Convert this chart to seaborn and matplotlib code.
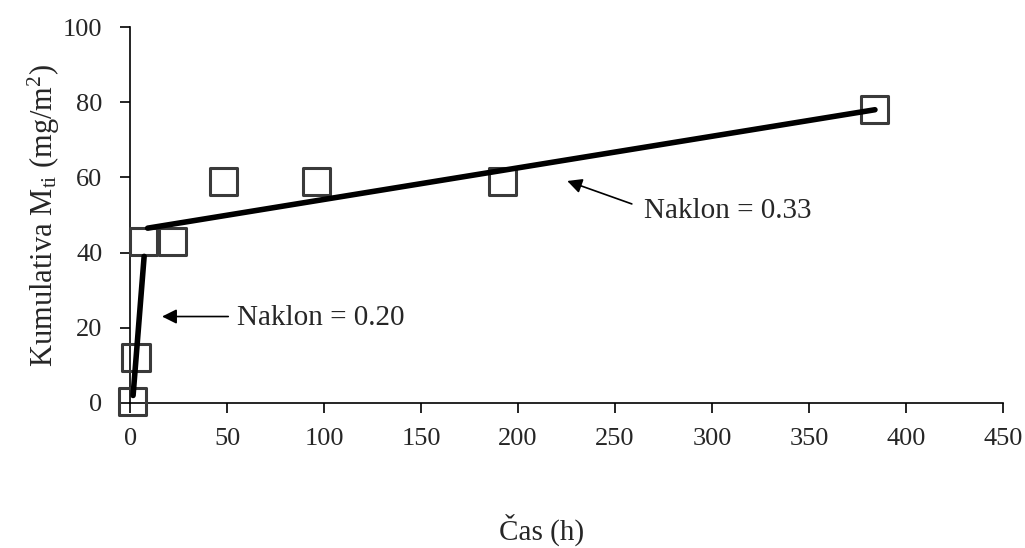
import matplotlib
matplotlib.use("Agg")
import matplotlib.pyplot as plt
import seaborn as sns
import pandas as pd

# Data
time_h = [1, 3, 7, 22, 48, 96, 192, 384]
cum_mti = [0.5, 12, 43, 43, 59, 59, 59, 78]

fit1_x = [1.5, 7.2]
fit1_y = [2, 39]
fit2_x = [9, 384]
fit2_y = [46.5, 78]

x_ticks = [0, 50, 100, 150, 200, 250, 300, 350, 400, 450]
y_ticks = [0, 20, 40, 60, 80, 100]

sns.set_theme(style="ticks")
plt.rcParams['font.family'] = ['Liberation Serif', 'DejaVu Serif']
plt.rcParams['mathtext.fontset'] = 'custom'
plt.rcParams['mathtext.rm'] = 'Liberation Serif'
plt.rcParams['mathtext.it'] = 'Liberation Serif:italic'

fig = plt.figure(figsize=(10.25, 5.48), dpi=100)
ax = fig.add_axes([0.127, 0.2646, 0.8515, 0.6861])

df = pd.DataFrame({"t": time_h, "m": cum_mti})
sns.scatterplot(data=df, x="t", y="m", ax=ax, marker="s", s=380,
                facecolor="none", edgecolor="#3a3a3a", linewidth=2.2, zorder=3)

sns.lineplot(x=fit1_x, y=fit1_y, ax=ax, color="black", linewidth=4, zorder=4)
sns.lineplot(x=fit2_x, y=fit2_y, ax=ax, color="black", linewidth=4, zorder=4)

ax.annotate("", xy=(15, 23), xytext=(52, 23),
            arrowprops=dict(arrowstyle="-|>", color="black", lw=1.2, mutation_scale=22))
ax.text(55, 22.5, "Naklon = 0.20", fontsize=21, va="center", ha="left")

ax.annotate("", xy=(224, 59.3), xytext=(260, 52.7),
            arrowprops=dict(arrowstyle="-|>", color="black", lw=1.2, mutation_scale=22))
ax.text(265, 51.0, "Naklon = 0.33", fontsize=21, va="center", ha="left")

ax.set_xlim(0, 450)
ax.set_ylim(0, 100)
ax.set_xticks(x_ticks)
ax.set_yticks(y_ticks)
ax.tick_params(axis="both", labelsize=19, length=7, width=1.2, color="black")
ax.tick_params(axis="x", pad=11)
ax.tick_params(axis="y", pad=13)
ax.set_xlabel("Čas (h)", fontsize=21)
ax.xaxis.set_label_coords(0.471, -0.295)
ax.set_ylabel(r"Kumulativa M$_{\mathrm{ti}}$ (mg/m$^2$)", fontsize=22)
ax.yaxis.set_label_coords(-0.078, 0.5)
for s in ["top", "right"]:
    ax.spines[s].set_visible(False)
for s in ["left", "bottom"]:
    ax.spines[s].set_linewidth(1.2)
    ax.spines[s].set_color("black")
for c in ax.collections:
    c.set_clip_on(False)

fig.savefig("out.png", dpi=100, facecolor="white")
